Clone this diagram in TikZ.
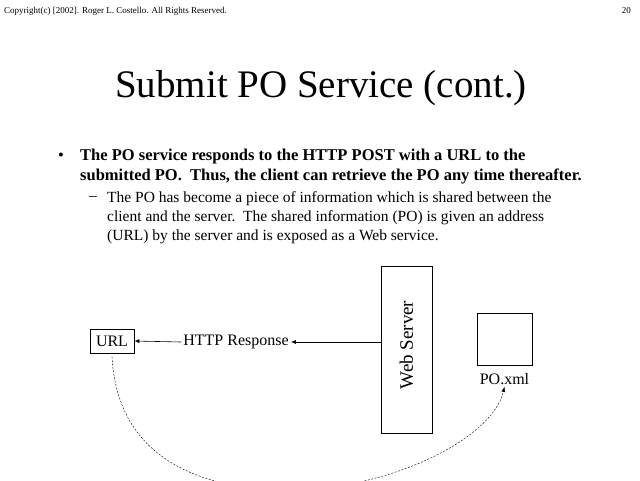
\documentclass[tikz,border=0pt]{standalone}
\usepackage{fontspec}
\setmainfont{Liberation Serif}
\usetikzlibrary{arrows.meta}
\tikzset{box/.style = {draw, thick, inner sep=0pt},
  note/.style = {anchor=north west, inner sep=0pt, align=left},
  label/.style = {inner sep=2pt, font=\fontsize{16}{18}\selectfont},
  reply/.style = {semithick, -{Latex[length=5pt, width=4pt]}},
  link/.style = {dash pattern=on 2pt off 1.5pt, -{Latex[length=5pt, width=4pt]}}}

\begin{document}
\begin{tikzpicture}[x=1pt, y=-1pt]
\useasboundingbox (0,0) rectangle (640,480);
\clip (0,0) rectangle (640,480);
\node[anchor=base west, inner sep=0pt, font=\fontsize{9}{10}\selectfont] (copy) at (4,13) {Copyright(c) [2002]. Roger L. Costello. All Rights Reserved.};
\node[anchor=base east, inner sep=0pt, font=\fontsize{9}{10}\selectfont] (page) at (631,13) {20};
\node[anchor=base, inner sep=0pt, font=\fontsize{39}{44}\selectfont] (title) at (321,97) {Submit PO Service (cont.)};
\node[anchor=base west, inner sep=0pt, font=\fontsize{16.5}{20}\selectfont] (dot) at (58,160) {•};
\node[note, font=\bfseries\fontsize{16.5}{20}\selectfont] (main) at (80,148.7) {The PO service responds to the HTTP POST with a URL to the\\submitted PO.\ \ Thus, the client can retrieve the PO any time thereafter.};
\node[anchor=base west, inner sep=0pt, font=\fontsize{15.5}{19}\selectfont] (dash) at (89,200.5) {–};
\node[note, font=\fontsize{15.5}{19}\selectfont] (sub) at (107,191.4) {The PO has become a piece of information which is shared between the\\client and the server.\ \ The shared information (PO) is given an address\\(URL) by the server and is exposed as a Web service.};
\node[box, minimum width=44pt, minimum height=24pt, label] (url) at (112,341) {URL};
\node[label] (resp) at (236,342) {HTTP Response};
\node[box, minimum width=51pt, minimum height=167pt] (server) at (406.5,349.5) {};
\node[rotate=90, font=\fontsize{19}{22}\selectfont] (srvname) at (406.5,345) {Web Server};
\node[box, minimum width=55pt, minimum height=52pt] (po) at (504.5,339) {};
\node[label] (poname) at (504.5,379) {PO.xml};
\coordinate (low) at (282,490);
\draw[reply] (server.west |- resp) -- (resp.east);
\draw[reply] (resp.west) -- (url.east);
\draw[link] (url.south) ++(0,3) .. controls (117,455) and (195,488) .. (low) .. controls (385,492) and (492,440) .. (poname.south);
\end{tikzpicture}
\end{document}
